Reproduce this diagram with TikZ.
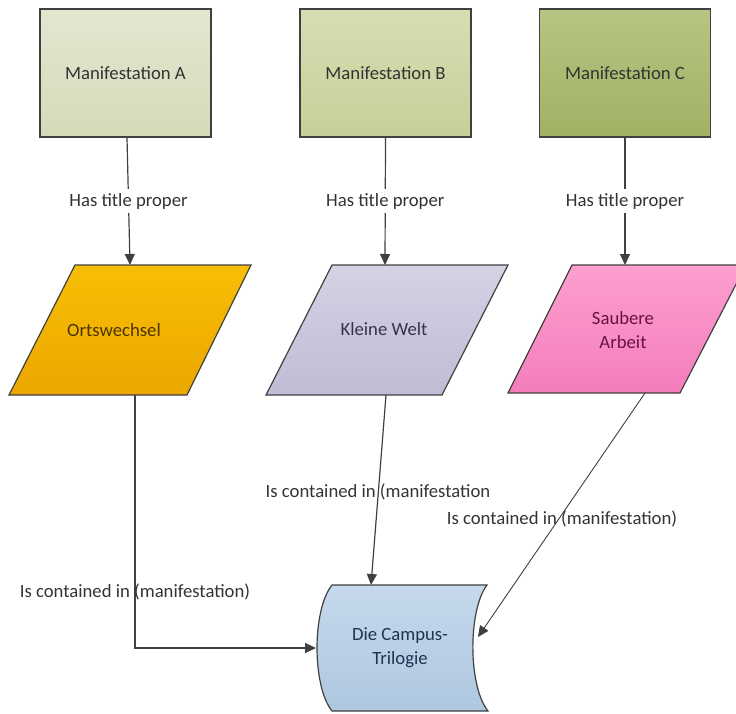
\documentclass[tikz,border=0pt]{standalone}
\usepackage{fontspec}
\setmainfont{Carlito}
\usetikzlibrary{arrows.meta}
\definecolor{lineC}{HTML}{404040}
\definecolor{txtC}{HTML}{333333}
\definecolor{aTop}{HTML}{E3E7D1}\definecolor{aBot}{HTML}{D4DBB8}
\definecolor{bTop}{HTML}{D8DDB3}\definecolor{bBot}{HTML}{C7CF98}
\definecolor{cTop}{HTML}{B7C583}\definecolor{cBot}{HTML}{A1B164}
\definecolor{oTop}{HTML}{F8BE05}\definecolor{oBot}{HTML}{EBA700}
\definecolor{kTop}{HTML}{D6D1E4}\definecolor{kBot}{HTML}{C1BBD5}
\definecolor{sTop}{HTML}{FC9FCE}\definecolor{sBot}{HTML}{F47DBC}
\definecolor{dTop}{HTML}{C6D9EC}\definecolor{dBot}{HTML}{AEC7DF}
\definecolor{oTxt}{HTML}{4A3500}
\definecolor{kTxt}{HTML}{36344A}
\definecolor{sTxt}{HTML}{6A1242}
\definecolor{dTxt}{HTML}{1E3450}
\tikzset{
  manbox/.style={draw=lineC, line width=1.2pt, minimum width=171pt, minimum height=128pt, inner sep=0pt, text=txtC, font=\fontsize{18.7}{22}\selectfont},
  shapeline/.style={draw=lineC, line width=1.2pt},
  conn/.style={draw=lineC, line width=1.2pt, -{Triangle[length=11pt,width=10pt]}},
  lbl/.style={text=txtC, font=\fontsize{18.7}{22}\selectfont, inner sep=1pt},
  lblfill/.style={lbl, fill=white, inner sep=4pt},
  ttl/.style={font=\fontsize{18.7}{24}\selectfont, align=center, inner sep=0pt}
}
\begin{document}
\begin{tikzpicture}[x=1pt,y=-1pt]
\useasboundingbox (0,0) rectangle (736,714);
\clip (0,0) rectangle (736,714);
% top boxes
\node[manbox, top color=aTop, bottom color=aBot] (ma) at (125.5,73) {Manifestation A};
\node[manbox, top color=bTop, bottom color=bBot] (mb) at (385.5,73) {Manifestation B};
\node[manbox, top color=cTop, bottom color=cBot] (mc) at (625,73) {Manifestation C};
% parallelograms
\path[shapeline, top color=oTop, bottom color=oBot] (75,265) -- (251,265) -- (187,395) -- (9,395) -- cycle;
\path[shapeline, top color=kTop, bottom color=kBot] (332,265) -- (508,265) -- (442,395) -- (266,395) -- cycle;
\path[shapeline, top color=sTop, bottom color=sBot] (572,265) -- (746,265) -- (680,393) -- (508,393) -- cycle;
\node[ttl, text=oTxt] (ort) at (114,330) {Ortswechsel};
\node[ttl, text=kTxt] (kw) at (384,329) {Kleine Welt};
\node[ttl, text=sTxt] (sa) at (623,330) {Saubere\\Arbeit};
% campus shape
\path[shapeline, top color=dTop, bottom color=dBot] (332,585) -- (487,585) .. controls (468,610) and (468,686) .. (488,711) -- (332,711) .. controls (312,686) and (312,610) .. (332,585) -- cycle;
\node[ttl, text=dTxt] (camp) at (400,648) {Die Campus-\\Trilogie};
% connector end coordinates
\coordinate (oT) at (130,265);
\coordinate (kT) at (385,265);
\coordinate (sT) at (625,265);
\coordinate (oB) at (135,395);
\coordinate (kB) at (386,395);
\coordinate (sB) at (645,393);
\coordinate (cL) at (316,648);
\coordinate (cT) at (371,585);
\coordinate (cR) at (478,637);
% connectors
\draw[conn] (ma.south -| 127,0) -- (oT) node[lblfill, pos=0.5] {Has title proper};
\draw[conn] (mb.south) -- (kT) node[lblfill, pos=0.5] {Has title proper};
\draw[conn] (mc.south) -- (sT) node[lblfill, pos=0.5] {Has title proper};
\draw[conn] (oB) |- (cL);
\draw[conn] (kB) -- (cT);
\draw[conn, line width=0.9pt] (sB) -- (cR);
% labels
\node[lbl] (la) at (135,592) {Is contained in (manifestation)};
\node[lbl] (lb) at (378,492) {Is contained in (manifestation};
\node[lbl] (lc) at (562,519) {Is contained in (manifestation)};
\end{tikzpicture}
\end{document}
